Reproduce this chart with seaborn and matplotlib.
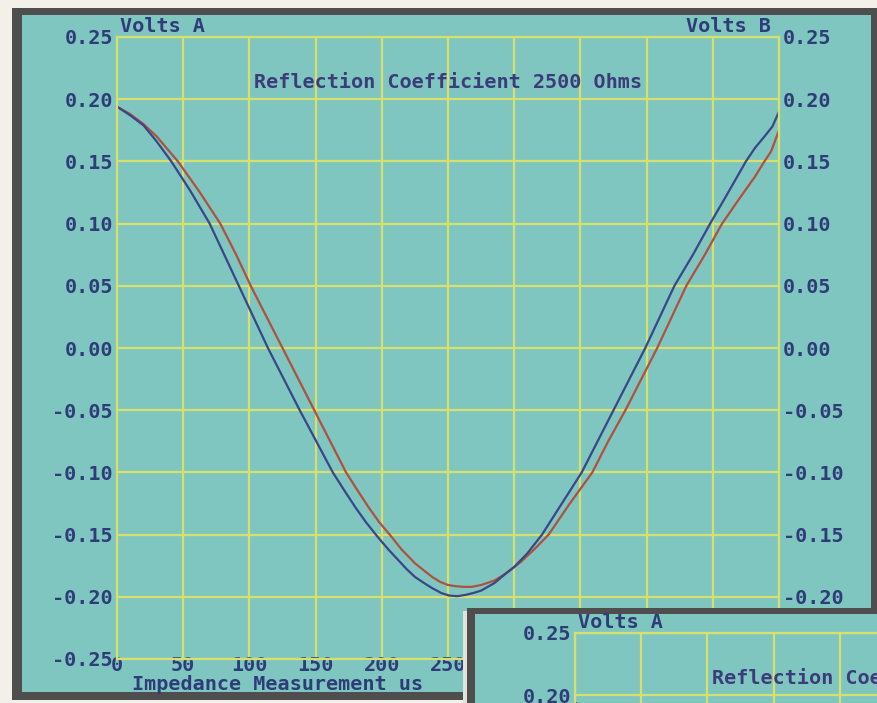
import matplotlib
matplotlib.use("Agg")
import matplotlib.pyplot as plt
from matplotlib.patches import Rectangle
import pandas as pd
import seaborn as sns

# ---------------- data ----------------
x_ticks = [0, 50, 100, 150, 200, 250, 300, 350, 400, 450, 500]
x_tick_labels = ["0", "50", "100", "150", "200", "250", "300", "350", "400", "450", "500"]
y_ticks = [0.25, 0.20, 0.15, 0.10, 0.05, 0.00, -0.05, -0.10, -0.15, -0.20, -0.25]
y_tick_labels = ["0.25", "0.20", "0.15", "0.10", "0.05", "0.00", "-0.05", "-0.10", "-0.15", "-0.20", "-0.25"]

time_a = [0, 10, 20, 30, 41, 55, 70, 81, 92, 103, 114, 126, 138, 150, 163, 172, 180, 188, 197,
          205, 212, 219, 225, 232, 238, 245, 251, 257, 263, 269, 275, 285, 294, 300, 310, 321,
          336, 351, 363, 375, 387, 399, 410, 421, 435, 448, 460, 475, 482, 489, 495, 500]
volts_a = [0.194, 0.187, 0.179, 0.166, 0.150, 0.127, 0.100, 0.075, 0.050, 0.025, 0.000,
           -0.025, -0.050, -0.074, -0.100, -0.115, -0.128, -0.140, -0.152, -0.162, -0.170,
           -0.178, -0.184, -0.189, -0.193, -0.197, -0.199, -0.1995, -0.1985, -0.197, -0.195,
           -0.189, -0.181, -0.176, -0.165, -0.150, -0.125, -0.100, -0.075, -0.050, -0.025,
           0.000, 0.025, 0.050, 0.075, 0.100, 0.122, 0.150, 0.161, 0.170, 0.178, 0.190]

time_b = [0, 10, 20, 30, 46, 62, 78, 90, 101, 113, 125, 137, 149, 161, 173, 182, 190, 198, 206,
          215, 225, 232, 238, 244, 250, 256, 262, 268, 275, 285, 294, 305, 315, 326, 342, 359,
          371, 384, 396, 408, 419, 430, 444, 457, 470, 482, 489, 494, 500]
volts_b = [0.194, 0.188, 0.180, 0.170, 0.150, 0.126, 0.100, 0.075, 0.050, 0.025, 0.000,
           -0.025, -0.050, -0.075, -0.100, -0.115, -0.128, -0.140, -0.150, -0.162, -0.173,
           -0.179, -0.184, -0.188, -0.1905, -0.1915, -0.192, -0.192, -0.1905, -0.187, -0.181,
           -0.172, -0.162, -0.150, -0.125, -0.100, -0.075, -0.050, -0.025, 0.000, 0.025, 0.050,
           0.075, 0.100, 0.120, 0.138, 0.150, 0.158, 0.175]

title_text = "Reflection Coefficient 2500 Ohms"
left_label = "Volts A"
right_label = "Volts B"
x_label = "Impedance Measurement us"

# ---------------- style ----------------
sns.set_style("white")
plt.rcParams["font.family"] = ["DejaVu Sans Mono", "DejaVu Sans"]
plt.rcParams["font.weight"] = "bold"

TEAL = "#80c6c0"
GRID = "#d6e06c"
TEXT = "#2e3c78"
FRAME = "#4e4e4e"
BLUE = "#3a4688"
RED = "#b0503e"
FS = 14.5

W, H = 878, 703
fig = plt.figure(figsize=(W / 100, H / 100), dpi=100)
fig.patch.set_facecolor("#f3f0ea")


def fr(l, t, w, h):
    return [l / W, 1 - (t + h) / H, w / W, h / H]


def make_bg(z):
    b = fig.add_axes([0, 0, 1, 1], zorder=z)
    b.set_xlim(0, W)
    b.set_ylim(H, 0)
    b.axis("off")
    b.patch.set_alpha(0)
    return b


df_a = pd.DataFrame({"t": time_a, "v": volts_a})
df_b = pd.DataFrame({"t": time_b, "v": volts_b})


def draw_window(bg, z, left, top):
    ax = fig.add_axes(fr(left, top, 662, 622), zorder=z)
    ax.set_facecolor("none")
    sns.lineplot(data=df_b, x="t", y="v", ax=ax, color=RED, lw=1.6, sort=False, estimator=None)
    sns.lineplot(data=df_a, x="t", y="v", ax=ax, color=BLUE, lw=1.6, sort=False, estimator=None)
    ax.set_xlim(0, 500)
    ax.set_ylim(-0.25, 0.25)
    ax.set_xticks(x_ticks)
    ax.set_xticklabels(x_tick_labels)
    ax.set_yticks(y_ticks)
    ax.set_yticklabels(y_tick_labels)
    ax.set_xlabel("")
    ax.set_ylabel("")
    ax.grid(True, color=GRID, lw=1.6)
    ax.set_axisbelow(True)
    for s in ax.spines.values():
        s.set_color(GRID)
        s.set_linewidth(1.6)
    ax.tick_params(axis="y", length=0, labelleft=True, labelright=True, pad=3,
                   labelsize=FS, labelcolor=TEXT)
    ax.tick_params(axis="x", length=0, pad=-2, labelsize=FS, labelcolor=TEXT)
    for t in ax.yaxis.get_major_ticks():
        t.label1.set_fontweight("bold")
        t.label2.set_fontweight("bold")
    for t in ax.xaxis.get_major_ticks():
        t.label1.set_fontweight("bold")
    tr = bg.transData
    ax.text(left + 3, top - 11, left_label, transform=tr, ha="left", va="center",
            fontsize=FS, color=TEXT, fontweight="bold", clip_on=False)
    ax.text(left + 654, top - 11, right_label, transform=tr, ha="right", va="center",
            fontsize=FS, color=TEXT, fontweight="bold", clip_on=False)
    ax.text(left + 331, top + 45, title_text, transform=tr, ha="center", va="center",
            fontsize=FS, color="#3c3c7a", fontweight="bold", clip_on=False)
    ax.text(left + 15, top + 648, x_label, transform=tr, ha="left", va="center",
            fontsize=FS, color=TEXT, fontweight="bold", clip_on=False)
    return ax


# main window frame
bg1 = make_bg(0)
bg1.add_patch(Rectangle((12, 8), 900, 692, facecolor=FRAME, edgecolor="none"))
bg1.add_patch(Rectangle((22, 15), 849, 677, facecolor=TEAL, edgecolor="none"))
ax1 = draw_window(bg1, 1, 117, 37)

# overlapping second window (bottom right)
bg2 = make_bg(2)
bg2.add_patch(Rectangle((463, 611), 5, 100, facecolor="#dfe3dc", edgecolor="none"))
bg2.add_patch(Rectangle((467, 608), 450, 110, facecolor=FRAME, edgecolor="none"))
bg2.add_patch(Rectangle((475, 614), 450, 110, facecolor=TEAL, edgecolor="none"))
ax2 = draw_window(bg2, 3, 575, 633)

fig.savefig("out.png", dpi=100, facecolor=fig.get_facecolor())
